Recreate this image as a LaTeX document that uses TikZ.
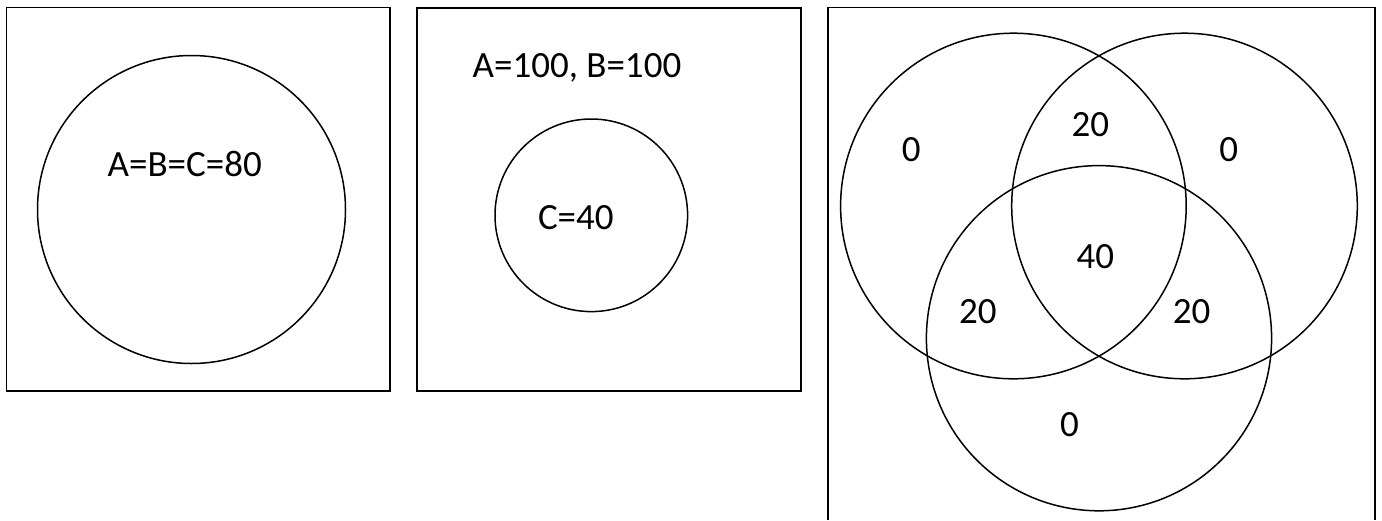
\documentclass[tikz,border=0pt]{standalone}
\usepackage{fontspec}
\setmainfont{Carlito}
\begin{document}
\begin{tikzpicture}[x=1pt,y=-1pt,
  frame/.style={draw=black,line width=1.8pt},
  ring/.style={draw=black,line width=1.5pt},
  lbl/.style={inner sep=0pt,font=\fontsize{37}{42}\selectfont,anchor=base},
  lblw/.style={inner sep=0pt,font=\fontsize{37}{42}\selectfont,anchor=base west}]
\path[use as bounding box] (0,0) rectangle (1382,520);
% panel 1
\draw[frame] (6.5,7.5) rectangle (390,391);
\draw[ring] (191.5,209.5) circle[radius=154];
\node[lblw] (t1) at (107.5,176.7) {A=B=C=80};
% panel 2
\draw[frame] (417.3,8.3) rectangle (801,391);
\draw[ring] (591.3,215.3) circle[radius=96.3];
\node[lblw] (t2) at (472.5,77.3) {A=100, B=100};
\node[lblw] (t3) at (537.8,229.3) {C=40};
% panel 3 (its bottom edge lies below the picture)
\coordinate (p3bl) at (828,520);
\coordinate (p3tl) at (828,7.5);
\coordinate (p3tr) at (1375,7.5);
\coordinate (p3br) at (1375,520);
\draw[frame,line join=miter] (p3bl) -- (p3tl) -- (p3tr) -- (p3br);
\draw[ring] (1013.4,206) circle[radius=172.8];
\draw[ring] (1184.5,206) circle[radius=172.8];
\draw[ring] (1099,338.2) circle[radius=172.6];
\node[lbl] (a) at (911.3,161.7) {0};
\node[lbl] (ab) at (1090.3,136.7) {20};
\node[lbl] (b) at (1228.7,161.7) {0};
\node[lbl] (abc) at (1095.3,268.3) {40};
\node[lbl] (ac) at (977.8,323.3) {20};
\node[lbl] (bc) at (1191.7,323.3) {20};
\node[lbl] (c) at (1069.5,436.7) {0};
\end{tikzpicture}
\end{document}
